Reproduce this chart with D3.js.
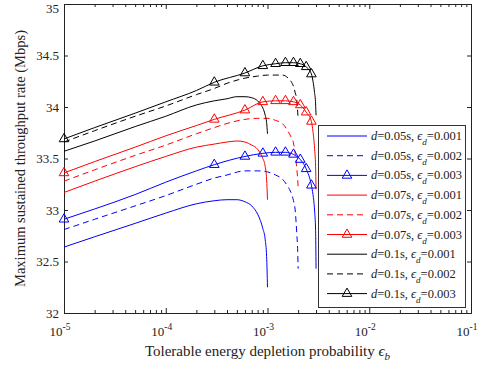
<!DOCTYPE html>
<html>
<head>
<meta charset="utf-8">
<script src="https://cdn.jsdelivr.net/npm/d3@7"></script>
<style>
  body { margin: 0; background: #fff; }
  svg text { font-family: "Liberation Serif", "Times New Roman", "DejaVu Serif", serif; fill: #222; }
</style>
</head>
<body>
<svg id="chart" width="484" height="368"></svg>
<script>
// x grids (tolerable energy depletion probability)
const xSolid = [1e-5, 2e-5, 5e-5, 1e-4, 2e-4, 3e-4, 4e-4, 5e-4, 6e-4, 7e-4, 8e-4, 8.5e-4, 9e-4, 9.5e-4, 9.8e-4, 1e-3]
const xDash = [1e-5, 2e-5, 5e-5, 1e-4, 2e-4, 3e-4, 4e-4, 6e-4, 8e-4, 1e-3, 1.2e-3, 1.4e-3, 1.6e-3, 1.7e-3, 1.8e-3, 1.87e-3, 1.94e-3, 1.98e-3, 2e-3]
const xTri = [1e-5, 2e-5, 5e-5, 1e-4, 2e-4, 3e-4, 6e-4, 9e-4, 1.2e-3, 1.5e-3, 1.8e-3, 2.1e-3, 2.4e-3, 2.7e-3, 2.8e-3, 2.9e-3, 2.97e-3, 3e-3]
const markerX = [1e-5, 3e-4, 6e-4, 9e-4, 1.2e-3, 1.5e-3, 1.8e-3, 2.1e-3, 2.4e-3, 2.7e-3]

// throughput (Mbps)
const blue1 = [32.64, 32.74, 32.87, 32.97, 33.06, 33.09, 33.10, 33.10, 33.08, 33.04, 32.96, 32.90, 32.82, 32.71, 32.55, 32.25]
const red1 = [33.17, 33.28, 33.42, 33.52, 33.61, 33.64, 33.66, 33.67, 33.66, 33.63, 33.59, 33.55, 33.50, 33.42, 33.30, 33.10]
const black1 = [33.57, 33.67, 33.81, 33.91, 34.02, 34.06, 34.08, 34.10, 34.10, 34.09, 34.06, 34.03, 33.99, 33.92, 33.85, 33.74]

const blue2 = [32.81, 32.91, 33.04, 33.14, 33.25, 33.31, 33.34, 33.38, 33.38, 33.37, 33.34, 33.30, 33.22, 33.17, 33.09, 33.00, 32.77, 32.60, 32.43]
const red2 = [33.28, 33.39, 33.53, 33.63, 33.74, 33.80, 33.84, 33.88, 33.89, 33.89, 33.87, 33.84, 33.76, 33.71, 33.65, 33.55, 33.40, 33.30, 33.22]
const black2 = [33.66, 33.77, 33.91, 34.01, 34.12, 34.18, 34.23, 34.28, 34.30, 34.31, 34.31, 34.31, 34.28, 34.25, 34.20, 34.14, 34.07, 33.95, 33.88]

const blue3 = [32.91, 33.01, 33.15, 33.27, 33.38, 33.44, 33.52, 33.55, 33.56, 33.56, 33.54, 33.49, 33.40, 33.24, 33.15, 33.00, 32.80, 32.43]
const red3 = [33.36, 33.47, 33.61, 33.72, 33.82, 33.88, 33.97, 34.05, 34.06, 34.06, 34.05, 34.02, 33.95, 33.86, 33.76, 33.60, 33.42, 33.20]
const black3 = [33.69, 33.80, 33.94, 34.05, 34.16, 34.24, 34.33, 34.40, 34.42, 34.43, 34.43, 34.42, 34.39, 34.32, 34.25, 34.14, 34.03, 33.92]

const delays = ['0.05', '0.07', '0.1']
const epsD = ['0.001', '0.002', '0.003']
const yTicks = [32, 32.5, 33, 33.5, 34, 34.5, 35]
const xMajor = [-5, -4, -3, -2, -1]

let colors = ['#0000ff', '#ff0000', '#000000']
let ys = [[blue1, blue2, blue3], [red1, red2, red3], [black1, black2, black3]]
let xs = [xSolid, xDash, xTri]

let series = []
delays.forEach((d, i) => {
  epsD.forEach((e, j) => {
    series.push({
      d: d, e: e, color: colors[i], kind: j,
      points: xs[j].map((x, k) => ({ x: x, y: ys[i][j][k] }))
    })
  })
})

let mLeft = 64, mRight = 471, mTop = 4, mBottom = 313
let svg = d3.select('#chart')

let x = d3.scaleLog().domain([1e-5, 1e-1]).range([mLeft, mRight])
let y = d3.scaleLinear().domain([32, 35]).range([mBottom, mTop])

// log ticks incl. minor ones
let allX = []
for (let p = -5; p < -1; p++) for (let m = 1; m < 10; m++) allX.push(m * Math.pow(10, p))
allX.push(1e-1)
let isMajor = v => Math.abs(Math.log10(v) - Math.round(Math.log10(v))) < 1e-9

let axG = svg.append('g').attr('class', 'axes')
axG.append('g').attr('transform', 'translate(0,' + mBottom + ')')
  .call(d3.axisBottom(x).tickValues(allX).tickSize(-5).tickFormat(''))
axG.append('g').attr('transform', 'translate(0,' + mTop + ')')
  .call(d3.axisTop(x).tickValues(allX).tickSize(-5).tickFormat(''))
axG.append('g').attr('transform', 'translate(' + mLeft + ',0)')
  .call(d3.axisLeft(y).tickValues(yTicks).tickSize(-4).tickFormat(''))
axG.append('g').attr('transform', 'translate(' + mRight + ',0)')
  .call(d3.axisRight(y).tickValues(yTicks).tickSize(-4).tickFormat(''))
axG.selectAll('.domain').attr('stroke', '#222')
axG.selectAll('.tick line').attr('stroke', '#222')
axG.selectAll('.tick').filter(d => allX.includes(d) && !isMajor(d)).select('line')
  .attr('y2', function () { return +d3.select(this).attr('y2') > 0 ? 3 : -3 })

// tick labels (top one nudged so it stays inside the picture)
svg.append('g').selectAll('text').data(yTicks).enter().append('text')
  .attr('x', mLeft - 5).attr('y', d => Math.max(y(d) + 4.5, 12.5))
  .attr('text-anchor', 'end').style('font-size', '13px')
  .text(d => d)

let xl = svg.append('g').selectAll('text').data(xMajor).enter().append('text')
  .attr('x', d => x(Math.pow(10, d)) - 4).attr('y', mBottom + 23)
  .attr('text-anchor', 'middle').style('font-size', '13px')
xl.append('tspan').text('10')
xl.append('tspan').attr('dy', -6).style('font-size', '9.5px').text(d => d)

// axis titles
let xt = svg.append('text').attr('x', (mLeft + mRight) / 2).attr('y', 356)
  .attr('text-anchor', 'middle').style('font-size', '15px')
xt.append('tspan').text('Tolerable energy depletion probability ')
xt.append('tspan').style('font-style', 'italic').text('\u03f5')
xt.append('tspan').attr('dy', 4).style('font-size', '11px').style('font-style', 'italic').text('b')

svg.append('text').attr('transform', 'translate(25,' + (mTop + mBottom) / 2 + ')rotate(-90)')
  .attr('text-anchor', 'middle').style('font-size', '14.5px')
  .text('Maximum sustained throughput rate (Mbps)')

// curves
let line = d3.line().x(d => x(d.x)).y(d => y(d.y)).curve(d3.curveMonotoneX)
let tri = d3.symbol().type(d3.symbolTriangle).size(40)

let plot = svg.append('g')
plot.selectAll('path.curve').data(series).enter().append('path')
  .attr('class', 'curve')
  .attr('d', d => line(d.points))
  .attr('fill', 'none')
  .attr('stroke', d => d.color)
  .attr('stroke-width', 1)
  .attr('stroke-dasharray', d => d.kind === 1 ? '6,4' : null)

series.filter(s => s.kind === 2).forEach(s => {
  plot.append('g').selectAll('path').data(s.points.filter(p => markerX.includes(p.x))).enter()
    .append('path')
    .attr('d', tri)
    .attr('transform', p => 'translate(' + x(p.x) + ',' + y(p.y) + ')')
    .attr('fill', 'none').attr('stroke', s.color).attr('stroke-width', 1)
})

// legend
let lg = svg.append('g')
lg.append('rect').attr('x', 318.5).attr('y', 125.5).attr('width', 147).attr('height', 182)
  .attr('fill', '#fff').attr('stroke', '#333').attr('stroke-width', 1)
let rows = lg.selectAll('g.row').data(series).enter().append('g')
  .attr('class', 'row')
  .attr('transform', (d, i) => 'translate(0,' + (136 + i * 19.7) + ')')
rows.append('line').attr('x1', 327).attr('x2', 367)
  .attr('stroke', d => d.color).attr('stroke-width', 1)
  .attr('stroke-dasharray', d => d.kind === 1 ? '6,4' : null)
rows.filter(d => d.kind === 2).append('path').attr('d', tri)
  .attr('transform', 'translate(347,0)')
  .attr('fill', 'none').attr('stroke', d => d.color)
let lt = rows.append('text').attr('x', 371).attr('y', 4).style('font-size', '12.5px')
lt.append('tspan').style('font-style', 'italic').text('d')
lt.append('tspan').text(d => '=' + d.d + 's, ')
lt.append('tspan').style('font-style', 'italic').text('\u03f5')
lt.append('tspan').attr('dy', 5).style('font-size', '9px').style('font-style', 'italic').text('d')
lt.append('tspan').attr('dy', -5).text(d => '=' + d.e)
</script>
</body>
</html>
